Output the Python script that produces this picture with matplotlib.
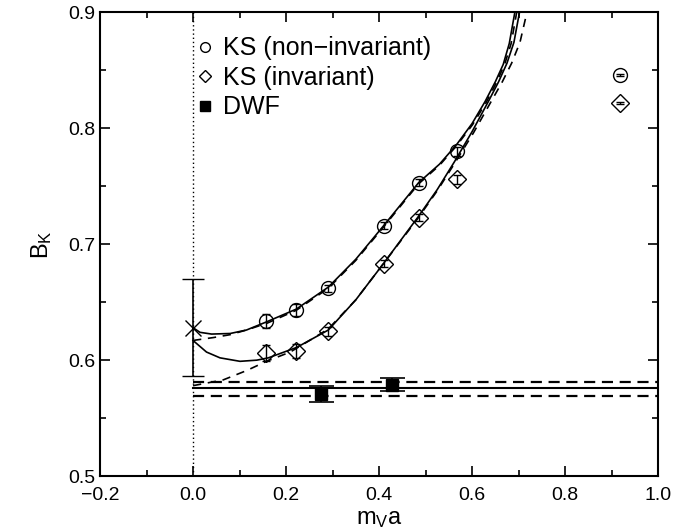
import numpy as np
import matplotlib
matplotlib.use("Agg")
import matplotlib.pyplot as plt
from matplotlib.ticker import MultipleLocator
from matplotlib.lines import Line2D

plt.rcParams['font.family'] = ['Liberation Sans', 'DejaVu Sans']
plt.rcParams['mathtext.default'] = 'regular'

# KS data (non-invariant / invariant), m_V a vs B_K
ks_x = [0.158, 0.222, 0.291, 0.410, 0.485, 0.567]
ks_noninv = [0.634, 0.643, 0.662, 0.716, 0.753, 0.780]
ks_noninv_err = [0.006, 0.005, 0.003, 0.003, 0.003, 0.004]
ks_inv = [0.606, 0.608, 0.625, 0.683, 0.723, 0.756]
ks_inv_err = [0.007, 0.006, 0.004, 0.003, 0.003, 0.004]

# heavy points (off to the right)
far_x = [0.918]
far_noninv = [0.846]
far_inv = [0.822]

# chiral extrapolation at m_V a = 0
chiral_y = 0.628
chiral_err = 0.042

# DWF data
dwf_x = [0.275, 0.427]
dwf_y = [0.5705, 0.579]
dwf_err = [0.0068, 0.0056]
dwf_band = [0.5756, 0.5692, 0.5813]   # central, lower, upper

# fit curves
fit_noninv_x = [0.0, 0.015, 0.04, 0.08, 0.115, 0.158, 0.222, 0.291, 0.35, 0.41, 0.485, 0.530, 0.567,
                0.600, 0.628, 0.650, 0.667, 0.680, 0.692]
fit_noninv_y = [0.628, 0.624, 0.6225, 0.623, 0.626, 0.633, 0.644, 0.663, 0.687, 0.716, 0.753, 0.769, 0.786,
                0.804, 0.823, 0.840, 0.855, 0.873, 0.900]
dash_noninv_x = [0.0, 0.044, 0.08, 0.115, 0.16, 0.222, 0.291, 0.35, 0.41, 0.485, 0.530, 0.567,
                 0.601, 0.630, 0.652, 0.670, 0.684, 0.696]
dash_noninv_y = [0.617, 0.6195, 0.622, 0.626, 0.632, 0.643, 0.662, 0.686, 0.715, 0.752, 0.768, 0.785,
                 0.803, 0.822, 0.839, 0.855, 0.873, 0.900]
fit_inv_x = [0.0, 0.029, 0.058, 0.101, 0.137, 0.162, 0.223, 0.291, 0.35, 0.409, 0.483, 0.525, 0.562,
             0.600, 0.635, 0.657, 0.675, 0.690, 0.702]
fit_inv_y = [0.617, 0.607, 0.602, 0.599, 0.600, 0.602, 0.611, 0.626, 0.652, 0.683, 0.723, 0.747, 0.771,
             0.797, 0.823, 0.840, 0.856, 0.874, 0.900]
dash_inv_x = [0.0, 0.065, 0.115, 0.158, 0.209, 0.259, 0.291, 0.35, 0.409, 0.483, 0.525, 0.563,
              0.603, 0.641, 0.665, 0.685, 0.703, 0.718]
dash_inv_y = [0.578, 0.583, 0.591, 0.599, 0.607, 0.619, 0.627, 0.652, 0.683, 0.722, 0.746, 0.770,
              0.796, 0.823, 0.840, 0.856, 0.874, 0.900]

fig = plt.figure(figsize=(6.92, 5.32), dpi=100)
ax = fig.add_axes([0.1445, 0.105, 0.8065, 0.872])

# dotted line at zero
ax.axvline(0.0, color='k', lw=1.0, ls=(0, (1, 2)))

# fits
ax.plot(fit_noninv_x, fit_noninv_y, color='k', lw=1.2)
ax.plot(dash_noninv_x, dash_noninv_y, color='k', lw=1.2, ls=(0, (5, 4)))
ax.plot(fit_inv_x, fit_inv_y, color='k', lw=1.2)
ax.plot(dash_inv_x, dash_inv_y, color='k', lw=1.2, ls=(0, (5, 4)))

# DWF band
ax.plot([0.0, 1.0], [dwf_band[0]] * 2, color='k', lw=1.5)
ax.plot([0.0, 1.0], [dwf_band[1]] * 2, color='k', lw=1.6, ls=(0, (5, 3)))
ax.plot([0.0, 1.0], [dwf_band[2]] * 2, color='k', lw=1.6, ls=(0, (5, 3)))

# KS points
ax.errorbar(ks_x, ks_noninv, yerr=ks_noninv_err, fmt='o', ms=10, mfc='none', mec='k',
            mew=1.0, ecolor='k', elinewidth=1.0, capsize=3)
ax.errorbar(ks_x, ks_inv, yerr=ks_inv_err, fmt='D', ms=9, mfc='none', mec='k',
            mew=1.0, ecolor='k', elinewidth=1.0, capsize=3)
ax.errorbar(far_x, far_noninv, yerr=0.0008, fmt='o', ms=10, mfc='none', mec='k',
            mew=1.0, ecolor='k', elinewidth=1.0, capsize=3)
ax.errorbar(far_x, far_inv, yerr=0.0008, fmt='D', ms=9, mfc='none', mec='k',
            mew=1.0, ecolor='k', elinewidth=1.0, capsize=3)

# chiral limit
ax.errorbar([0.0], [chiral_y], yerr=chiral_err, fmt='x', ms=11, mec='k', mew=1.0,
            ecolor='k', elinewidth=1.2, capsize=8, capthick=1.2)

# DWF points
ax.errorbar(dwf_x, dwf_y, yerr=dwf_err, fmt='s', ms=9, mfc='k', mec='k',
            ecolor='k', elinewidth=1.2, capsize=9, capthick=1.2)

ax.set_xlim(-0.2, 1.0)
ax.set_ylim(0.5, 0.9)
ax.xaxis.set_major_locator(MultipleLocator(0.2))
ax.xaxis.set_minor_locator(MultipleLocator(0.1))
ax.yaxis.set_major_locator(MultipleLocator(0.1))
ax.yaxis.set_minor_locator(MultipleLocator(0.05))
ax.tick_params(which='both', direction='in', top=True, right=True, labelsize=14)
ax.tick_params(which='major', length=7, width=1.2)
ax.tick_params(which='minor', length=4, width=1.2)
ax.tick_params(axis='x', pad=8)
ax.set_xticks([-0.2, 0.0, 0.2, 0.4, 0.6, 0.8, 1.0])
ax.set_xticklabels(['\u22120.2', '0.0', '0.2', '0.4', '0.6', '0.8', '1.0'])
for s in ax.spines.values():
    s.set_linewidth(1.5)

ax.set_xlabel('m$_V$a', fontsize=17, labelpad=3)
ax.set_ylabel('B$_K$', fontsize=17, labelpad=10)

handles = [
    Line2D([], [], ls='none', marker='o', ms=7, mfc='none', mec='k', mew=1.0),
    Line2D([], [], ls='none', marker='D', ms=6, mfc='none', mec='k', mew=1.0),
    Line2D([], [], ls='none', marker='s', ms=7, mfc='k', mec='k'),
]
ax.legend(handles, ['KS (non\u2212invariant)', 'KS (invariant)', 'DWF'],
          loc='upper left', bbox_to_anchor=(0.172, 0.948), frameon=False,
          fontsize=18, handlelength=0.7, handletextpad=0.4, labelspacing=0.22,
          borderaxespad=0, borderpad=0)

fig.savefig('out.png', dpi=100)
